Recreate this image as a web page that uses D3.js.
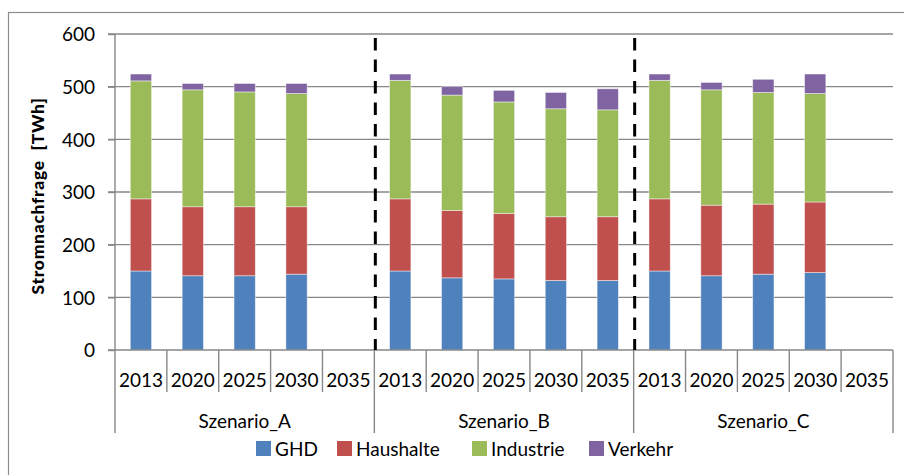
<!DOCTYPE html>
<html>
<head>
<meta charset="utf-8">
<script src="https://cdn.jsdelivr.net/npm/d3@7"></script>
<style>
  body { margin: 0; background: #fff; }
  svg { display: block; font-family: Lato, "Open Sans", sans-serif; }
</style>
</head>
<body>
<svg id="chart" width="904" height="475"></svg>
<script>
// data (TWh)
const scenarios = ["Szenario_A", "Szenario_B", "Szenario_C"];
const years = ["2013", "2020", "2025", "2030", "2035"];
const sectors = ["GHD", "Haushalte", "Industrie", "Verkehr"];
const colors = ["#4F81BD", "#C0504D", "#9BBB59", "#8064A2"];
const yTicks = [0, 100, 200, 300, 400, 500, 600];

// one row per scenario (A, B, C), one value per year (null = no bar)
const ghd = [
  [150, 141, 141, 144, null],
  [150, 137, 135, 132, 132],
  [150, 141, 144, 147, null]
];
const haushalte = [
  [137, 131, 131, 128, null],
  [137, 128, 124, 121, 121],
  [137, 134, 133, 134, null]
];
const industrie = [
  [224, 222, 218, 215, null],
  [225, 219, 212, 205, 203],
  [225, 219, 212, 206, null]
];
const verkehr = [
  [13, 12, 16, 19, null],
  [12, 16, 22, 31, 40],
  [12, 14, 25, 37, null]
];

const series = [ghd, haushalte, industrie, verkehr];

// flatten into rows for d3.stack
const rows = [];
scenarios.forEach((s, i) => {
  years.forEach((yr, j) => {
    const r = { scenario: s, year: yr, empty: ghd[i][j] == null };
    sectors.forEach((k, n) => r[k] = series[n][i][j] || 0);
    rows.push(r);
  });
});

const svg = d3.select("#chart");
const plotL = 115, plotR = 893, plotT = 34, plotB = 350;
const gridColor = "#878787";

// outer chart frame (right/bottom edges lie outside the picture)
svg.append("rect")
  .attr("x", 8.5).attr("y", 12.5)
  .attr("width", 1000).attr("height", 1000)
  .attr("fill", "none").attr("stroke", "#8c8c8c").attr("stroke-width", 1.2);

const y = d3.scaleLinear().domain([0, 600]).range([plotB, plotT]);
const x0 = d3.scaleBand().domain(scenarios).range([plotL, plotR]);
const x1 = d3.scaleBand().domain(years).range([0, x0.bandwidth()])
  .paddingInner(0.59).paddingOuter(0.295);
const slot = d3.scaleBand().domain(years).range([0, x0.bandwidth()]);

// gridlines
svg.append("g")
  .selectAll("line")
  .data(yTicks.filter(d => d > 0))
  .join("line")
  .attr("x1", plotL - 7).attr("x2", plotR)
  .attr("y1", d => y(d)).attr("y2", d => y(d))
  .attr("stroke", gridColor).attr("stroke-width", 1.4);

// y axis
const yAxis = svg.append("g")
  .attr("transform", `translate(${plotL},0)`)
  .call(d3.axisLeft(y).tickValues(yTicks).tickSize(7).tickPadding(13));
yAxis.select(".domain").remove();
yAxis.selectAll(".tick line").attr("stroke", gridColor).attr("stroke-width", 1.4);
yAxis.selectAll(".tick text")
  .attr("font-family", "Lato, sans-serif")
  .attr("font-size", 19).attr("fill", "#000").attr("dy", "0.36em");

svg.append("line")
  .attr("x1", plotL).attr("x2", plotL)
  .attr("y1", plotT).attr("y2", 433)
  .attr("stroke", gridColor).attr("stroke-width", 1.4);

svg.append("text")
  .attr("transform", `translate(43.5,${(plotT + plotB) / 2 + 4}) rotate(-90)`)
  .attr("text-anchor", "middle")
  .attr("font-size", 17.5).attr("font-weight", 900)
  .attr("letter-spacing", 0.7)
  .style("white-space", "pre")
  .text("Stromnachfrage  [TWh]");

// stacked bars
const stacked = d3.stack().keys(sectors)(rows);

svg.append("g")
  .selectAll("g")
  .data(stacked)
  .join("g")
  .attr("fill", (d, i) => colors[i])
  .selectAll("rect")
  .data(d => d.filter(p => !p.data.empty))
  .join("rect")
  .attr("x", d => x0(d.data.scenario) + x1(d.data.year))
  .attr("width", x1.bandwidth())
  .attr("y", d => y(d[1]))
  .attr("height", d => y(d[0]) - y(d[1]))
  .attr("stroke", "rgba(255,255,255,0.55)")
  .attr("stroke-width", 0.8);

// category axis
svg.append("line")
  .attr("x1", plotL - 7).attr("x2", plotR)
  .attr("y1", plotB).attr("y2", plotB)
  .attr("stroke", gridColor).attr("stroke-width", 1.4);

const grp = svg.append("g").selectAll("g")
  .data(scenarios)
  .join("g")
  .attr("transform", d => `translate(${x0(d)},0)`);

grp.selectAll("line.sep")
  .data(years.slice(1))
  .join("line")
  .attr("class", "sep")
  .attr("x1", d => slot(d)).attr("x2", d => slot(d))
  .attr("y1", plotB).attr("y2", 392)
  .attr("stroke", gridColor).attr("stroke-width", 1.4);

grp.append("line")
  .attr("x1", x0.bandwidth()).attr("x2", x0.bandwidth())
  .attr("y1", plotB).attr("y2", 433)
  .attr("stroke", gridColor).attr("stroke-width", 1.4);

grp.selectAll("text.year")
  .data(years)
  .join("text")
  .attr("class", "year")
  .attr("x", d => slot(d) + slot.bandwidth() / 2)
  .attr("y", 387)
  .attr("text-anchor", "middle")
  .attr("font-size", 19)
  .text(d => d);

grp.append("text")
  .attr("x", x0.bandwidth() / 2)
  .attr("y", 428)
  .attr("text-anchor", "middle")
  .attr("font-size", 19)
  .text(d => d);

// dashed scenario dividers
svg.append("g")
  .selectAll("line")
  .data(scenarios.slice(1))
  .join("line")
  .attr("x1", d => x0(d) + 1).attr("x2", d => x0(d) + 1)
  .attr("y1", 38).attr("y2", plotB)
  .attr("stroke", "#000").attr("stroke-width", 3)
  .attr("stroke-dasharray", "12.5,9");

// legend
const legendX = [256, 337, 472, 589];
const lg = svg.append("g").selectAll("g")
  .data(sectors)
  .join("g")
  .attr("transform", (d, i) => `translate(${legendX[i]},441)`);
lg.append("rect")
  .attr("width", 15).attr("height", 15)
  .attr("fill", (d, i) => colors[i]);
lg.append("text")
  .attr("x", 19).attr("y", 14.5)
  .attr("font-size", 19)
  .text(d => d);
</script>
</body>
</html>
